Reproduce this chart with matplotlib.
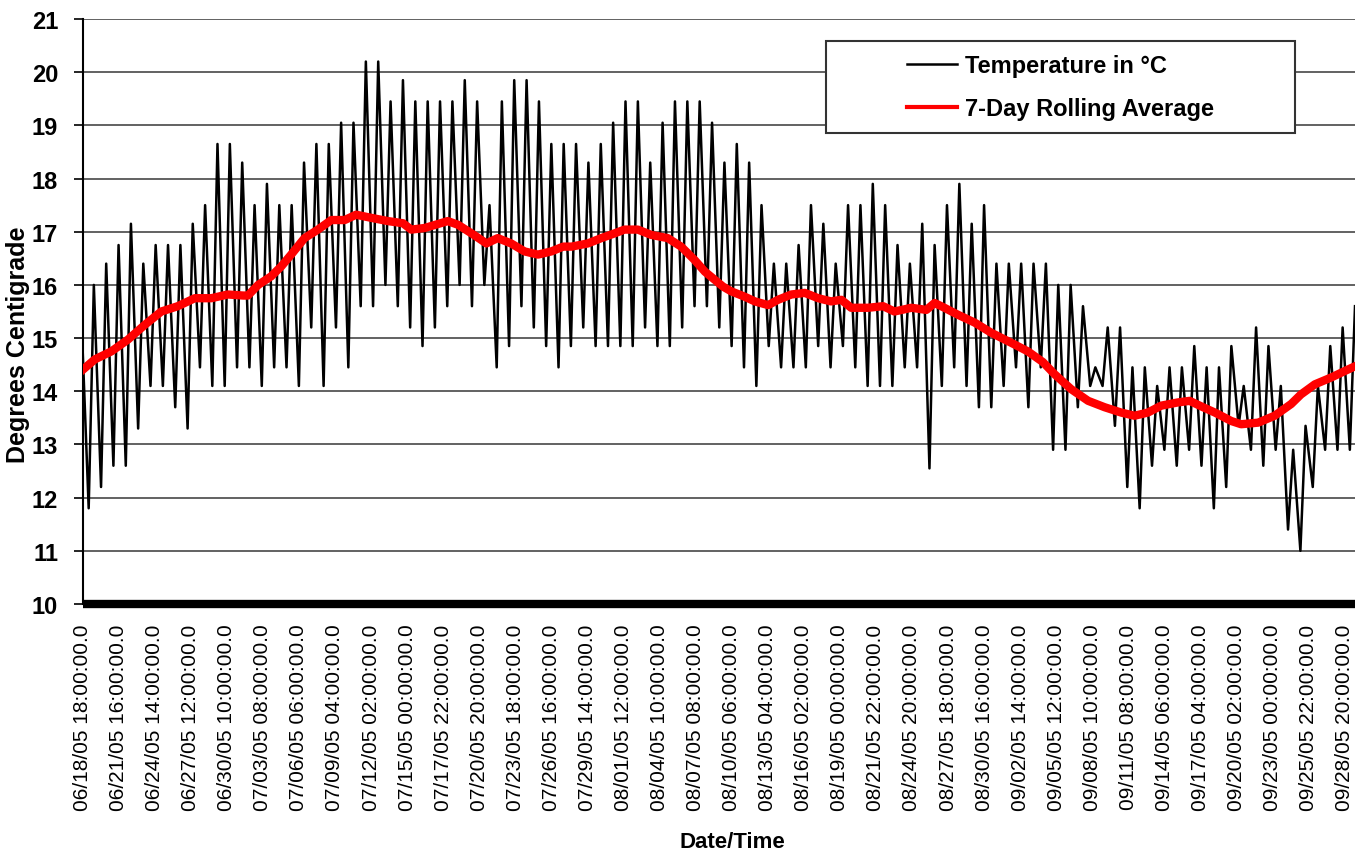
import matplotlib.pyplot as plt
from matplotlib.lines import Line2D
from matplotlib.patches import Rectangle
import pandas as pd

plt.rcParams['font.family'] = ['Liberation Sans', 'DejaVu Sans']

# hourly logger readings, kept as the daily turning points (06:00 low, 16:00 high)
start_value = 14.85
trough_hour = 12   # hours after 06/18 18:00 of the first daily low
peak_hour = 22     # hours after 06/18 18:00 of the first daily high

daily_low = [
    11.8, 12.2, 12.6, 12.6, 13.3, 14.1, 14.1, 13.7, 13.3, 14.45, 14.1, 14.1, 14.45,
    14.45, 14.1, 14.45, 14.45, 14.1, 15.2, 14.1, 15.2, 14.45, 15.6, 15.6, 16.0, 15.6,
    15.2, 14.85, 15.2, 15.6, 16.0, 15.6, 16.0, 14.45, 14.85, 15.6, 15.2, 14.85, 14.45,
    14.85, 15.2, 14.85, 14.85, 14.85, 14.85, 15.2, 14.85, 14.85, 15.2, 15.6, 15.6, 15.2,
    14.85, 14.45, 14.1, 14.85, 14.45, 14.45, 14.45, 14.85, 14.45, 14.85, 14.45, 14.1, 14.1,
    14.1, 14.45, 14.45, 12.55, 14.1, 14.45, 14.1, 13.7, 13.7, 14.1, 14.45, 13.7, 14.45,
    12.9, 12.9, 13.7, 14.1, 14.1, 13.35, 12.2, 11.8, 12.6, 12.9, 12.6, 12.9, 12.6,
    11.8, 12.2, 13.35, 12.9, 12.6, 12.9, 11.4, 11.0, 12.2, 12.9, 12.9, 12.9,
]
daily_high = [
    16.0, 16.4, 16.75, 17.15, 16.4, 16.75, 16.75, 16.75, 17.15, 17.5, 18.65, 18.65, 18.3,
    17.5, 17.9, 17.5, 17.5, 18.3, 18.65, 18.65, 19.05, 19.05, 20.2, 20.2, 19.45, 19.85,
    19.45, 19.45, 19.45, 19.45, 19.85, 19.45, 17.5, 19.45, 19.85, 19.85, 19.45, 18.65, 18.65,
    18.65, 18.3, 18.65, 19.05, 19.45, 19.45, 18.3, 19.05, 19.45, 19.45, 19.45, 19.05, 18.3,
    18.65, 18.3, 17.5, 16.4, 16.4, 16.75, 17.5, 17.15, 16.4, 17.5, 17.5, 17.9, 17.5,
    16.75, 16.4, 17.15, 16.75, 17.5, 17.9, 17.15, 17.5, 16.4, 16.4, 16.4, 16.4, 16.4,
    16.0, 16.0, 15.6, 14.45, 15.2, 15.2, 14.45, 14.45, 14.1, 14.45, 14.45, 14.85, 14.45,
    14.45, 14.85, 14.1, 15.2, 14.85, 14.1, 12.9, 13.35, 14.1, 14.85, 15.2, 15.6,
]

# 7-day rolling average (hours since 06/18 18:00, value)
avg_hours = [0, 24, 56, 88, 121, 153, 185, 218, 250, 282, 312, 321, 341, 366, 386, 405,
             431, 457, 483, 509, 531, 561, 593, 622, 638, 664, 709, 729, 755, 784, 806,
             832, 858, 884, 910, 933, 949, 981, 1007, 1033, 1052, 1078, 1104, 1136, 1162,
             1188, 1208, 1243, 1259, 1285, 1305, 1331, 1350, 1376, 1402, 1428, 1453, 1473,
             1492, 1525, 1554, 1576, 1609, 1638, 1654, 1673, 1699, 1732, 1764, 1803, 1835,
             1864, 1887, 1919, 1952, 1984, 2016, 2042, 2068, 2094, 2126, 2149, 2175, 2198,
             2230, 2249, 2282, 2314, 2346, 2365, 2392, 2424, 2450, 2470]
avg_values = [14.4, 14.6, 14.75, 14.97, 15.25, 15.5, 15.6, 15.75, 15.75, 15.82, 15.8, 15.8,
              16.0, 16.16, 16.35, 16.57, 16.88, 17.04, 17.22, 17.22, 17.32, 17.26, 17.2,
              17.16, 17.04, 17.07, 17.2, 17.13, 16.97, 16.78, 16.88, 16.78, 16.63, 16.57,
              16.63, 16.72, 16.72, 16.78, 16.88, 16.97, 17.04, 17.04, 16.94, 16.88, 16.72,
              16.47, 16.25, 15.97, 15.88, 15.78, 15.69, 15.62, 15.72, 15.82, 15.85, 15.75,
              15.69, 15.72, 15.57, 15.57, 15.6, 15.5, 15.57, 15.53, 15.66, 15.57, 15.44,
              15.29, 15.1, 14.91, 14.75, 14.55, 14.32, 14.04, 13.82, 13.7, 13.6, 13.54,
              13.6, 13.73, 13.79, 13.82, 13.7, 13.6, 13.44, 13.38, 13.41, 13.54, 13.76,
              13.94, 14.13, 14.26, 14.38, 14.47]

tick_start = '2005-06-18 18:00'
tick_step = 70
n_ticks = 36
last_hour = 2470

temp_hours = [0]
temp_values = [start_value]
for k in range(len(daily_high)):
    temp_hours += [trough_hour + 24 * k, peak_hour + 24 * k]
    temp_values += [daily_low[k], daily_high[k]]

fig = plt.figure(figsize=(13.63, 8.53), dpi=100)
ax = fig.add_axes([82.5 / 1363, 1 - 605 / 853, (1355 - 82.5) / 1363, 585 / 853])

ax.plot(temp_hours, temp_values, color='black', lw=1.8, zorder=3)
ax.plot(avg_hours, avg_values, color='#ff0000', lw=6, zorder=4)

ax.set_xlim(0, last_hour)
ax.set_ylim(10, 21)
ax.set_yticks(range(10, 22))
ax.yaxis.grid(True, color='#555555', lw=1.3)
ax.set_axisbelow(True)

ticks = [i * tick_step for i in range(n_ticks)]
labels = [(pd.Timestamp(tick_start) + pd.Timedelta(hours=h)).strftime('%m/%d/%y %H:%M:%S') + '.0'
          for h in ticks]
ax.set_xticks(ticks)
ax.set_xticklabels(labels, rotation=90, fontsize=15)
ax.tick_params(axis='x', length=0, pad=14)
ax.tick_params(axis='y', length=6.5, width=1.2, pad=11, labelsize=17)
for lbl in ax.get_yticklabels():
    lbl.set_fontweight('bold')

ax.spines['top'].set_visible(False)
ax.spines['right'].set_visible(False)
ax.spines['left'].set_linewidth(1.5)
ax.spines['bottom'].set_linewidth(6)
ax.spines['bottom'].set_capstyle('butt')

# legend box
ax.add_patch(Rectangle((0.584, 0.805), 0.369, 0.157, transform=ax.transAxes,
                       facecolor='white', edgecolor='#333333', lw=1.5, zorder=5))
handles = [Line2D([], [], color='black', lw=1.8), Line2D([], [], color='#ff0000', lw=3)]
leg = ax.legend(handles, ['Temperature in °C', '7-Day Rolling Average'], loc='center',
                bbox_to_anchor=(0.7687, 0.8838), frameon=False,
                prop={'weight': 'bold', 'size': 17}, handlelength=2.1,
                handletextpad=0.35, labelspacing=0.85)
leg.set_zorder(6)

fig.text(18 / 1363, 1 - 345 / 853, 'Degrees Centigrade', rotation=90, ha='center',
         va='center', fontsize=18, fontweight='bold')
fig.text(732 / 1363, 1 - 848 / 853, 'Date/Time', ha='center', va='baseline',
         fontsize=16, fontweight='bold')

fig.savefig('out.png', dpi=100)
